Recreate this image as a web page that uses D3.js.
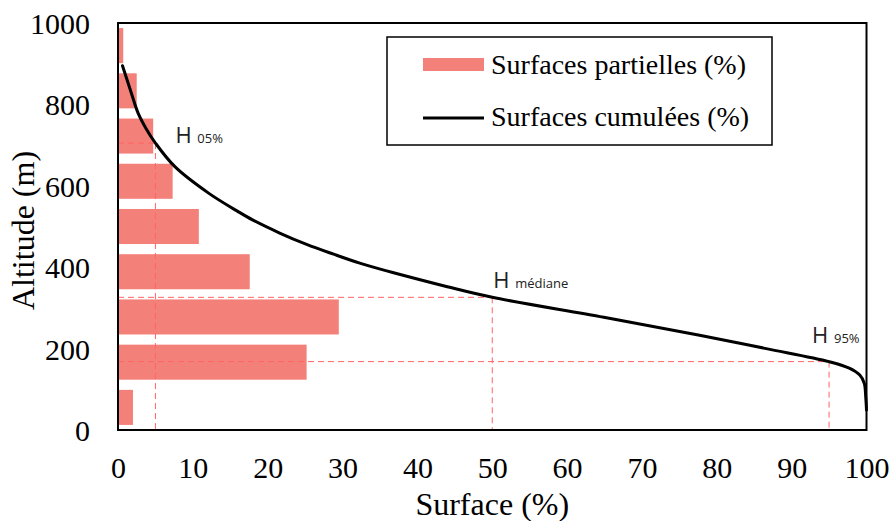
<!DOCTYPE html>
<html>
<head>
<meta charset="utf-8">
<script src="https://cdn.jsdelivr.net/npm/d3@7"></script>
<style>
  body { margin: 0; background: #fff; }
  svg { display: block; }
</style>
</head>
<body>
<div id="chart"></div>
<script>
// altitude classes (bars) and the share of surface in each one
const altitudeClasses = ["0-100", "100-200", "200-300", "300-400", "400-500",
                         "500-600", "600-700", "700-800", "800-900"];
const partialSurface = [2.0, 25.2, 29.5, 17.6, 10.8, 7.3, 4.7, 2.5, 0.7];

// hypsometric curve: altitude (m) and cumulated surface (%)
const curveAltitude = [895, 827, 778, 739, 705, 647, 582, 536, 515, 484, 456, 432, 410,
                       391, 382, 352, 326, 277, 233, 200, 168, 152, 135, 115, 80, 49];
const curveSurface = [0.6, 1.8, 2.7, 3.8, 5.0, 7.6, 12.1, 16.1, 18.1, 21.6, 25.2, 28.8, 32.3,
                      35.9, 37.7, 44.0, 50.0, 64.9, 77.7, 86.6, 95.0, 97.7, 99.1, 99.7, 99.9, 100];

// characteristic altitudes
const markerNames = ["05%", "médiane", "95%"];
const markerSurface = [5, 50, 95];
const markerAltitude = [705, 326, 168];

const xTicks = [0, 10, 20, 30, 40, 50, 60, 70, 80, 90, 100];
const yTicks = [0, 200, 400, 600, 800, 1000];

const width = 893, height = 521;
const margin = {top: 23, right: 26.5, bottom: 91, left: 118};
const innerW = width - margin.left - margin.right;
const innerH = height - margin.top - margin.bottom;

const serif = "'Liberation Serif', 'Times New Roman', serif";
const sans = "'Open Sans', 'Noto Sans', sans-serif";
const barColor = "#f4807a";
const guideColor = "#ff6464";

const svg = d3.select("#chart")
    .append("svg")
    .attr("width", width)
    .attr("height", height);

const g = svg.append("g")
    .attr("transform", `translate(${margin.left},${margin.top})`);

const x = d3.scaleLinear().domain([0, 100]).range([0, innerW]);
const y = d3.scaleLinear().domain([0, 1000]).range([innerH, 0]);

// bars sit on a category axis spread over the full height
const band = d3.scaleBand()
    .domain(altitudeClasses)
    .range([innerH, 0])
    .paddingInner(0.225)
    .paddingOuter(0.1125);

g.selectAll(".bar")
    .data(altitudeClasses)
    .enter()
    .append("rect")
    .attr("class", "bar")
    .attr("x", 0)
    .attr("y", d => band(d))
    .attr("width", (d, i) => x(partialSurface[i]))
    .attr("height", band.bandwidth())
    .attr("fill", barColor);

// guide lines for the characteristic altitudes
markerNames.forEach((name, i) => {
    const px = x(markerSurface[i]);
    const py = y(markerAltitude[i]);
    g.append("line")
        .attr("x1", 0).attr("x2", px)
        .attr("y1", py).attr("y2", py)
        .attr("stroke", guideColor)
        .attr("stroke-width", 1)
        .attr("stroke-dasharray", "6,4");
    g.append("line")
        .attr("x1", px).attr("x2", px)
        .attr("y1", py).attr("y2", innerH)
        .attr("stroke", guideColor)
        .attr("stroke-width", 1)
        .attr("stroke-dasharray", "6,4");
});

// cumulated surface curve
const curvePoints = curveAltitude.map((a, i) => [curveSurface[i], a]);
const line = d3.line()
    .x(d => x(d[0]))
    .y(d => y(d[1]))
    .curve(d3.curveCatmullRom.alpha(0.5));

g.append("path")
    .datum(curvePoints)
    .attr("fill", "none")
    .attr("stroke", "#000")
    .attr("stroke-width", 3)
    .attr("stroke-linecap", "round")
    .attr("d", line);

// H labels, offset from their point on the curve
const labelOffsets = [[20, 0], [1, -9], [-17, -19]];
markerNames.forEach((name, i) => {
    const [dx, dy] = labelOffsets[i];
    const t = g.append("text")
        .attr("x", x(markerSurface[i]) + dx)
        .attr("y", y(markerAltitude[i]) + dy)
        .attr("font-family", sans)
        .attr("fill", "#222");
    t.append("tspan").attr("font-size", 22).text("H ");
    t.append("tspan").attr("font-size", 13).text(name);
});

// plot frame
g.append("rect")
    .attr("x", 0).attr("y", 0)
    .attr("width", innerW).attr("height", innerH)
    .attr("fill", "none")
    .attr("stroke", "#000")
    .attr("stroke-width", 2);

// axes
const xAxis = g.append("g")
    .attr("transform", `translate(0,${innerH})`)
    .call(d3.axisBottom(x).tickValues(xTicks).tickSize(0).tickPadding(0));
xAxis.select(".domain").remove();
xAxis.selectAll("text")
    .attr("y", 47.5)
    .attr("dy", null)
    .attr("font-family", serif)
    .attr("font-size", 30)
    .attr("fill", "#000");

const yAxis = g.append("g")
    .call(d3.axisLeft(y).tickValues(yTicks).tickFormat(d3.format("d"))
        .tickSize(0).tickPadding(28));
yAxis.select(".domain").remove();
yAxis.selectAll("text")
    .attr("dy", "0.35em")
    .attr("font-family", serif)
    .attr("font-size", 30)
    .attr("fill", "#000");

// axis titles
svg.append("text")
    .attr("x", margin.left + x(50))
    .attr("y", 515)
    .attr("text-anchor", "middle")
    .attr("font-family", serif)
    .attr("font-size", 32)
    .text("Surface (%)");

svg.append("text")
    .attr("transform", `translate(34,${margin.top + innerH / 2 + 4}) rotate(-90)`)
    .attr("text-anchor", "middle")
    .attr("font-family", serif)
    .attr("font-size", 32)
    .text("Altitude (m)");

// legend
const legend = svg.append("g").attr("transform", "translate(387,37)");
legend.append("rect")
    .attr("width", 385).attr("height", 108)
    .attr("fill", "#fff")
    .attr("stroke", "#000")
    .attr("stroke-width", 1.5);
legend.append("rect")
    .attr("x", 36).attr("y", 21)
    .attr("width", 61).attr("height", 13)
    .attr("fill", barColor);
legend.append("line")
    .attr("x1", 36).attr("x2", 97)
    .attr("y1", 81).attr("y2", 81)
    .attr("stroke", "#000")
    .attr("stroke-width", 3);
legend.selectAll(".legend-label")
    .data(["Surfaces partielles (%)", "Surfaces cumulées (%)"])
    .enter()
    .append("text")
    .attr("class", "legend-label")
    .attr("x", 104)
    .attr("y", (d, i) => i === 0 ? 37 : 89)
    .attr("font-family", serif)
    .attr("font-size", 28)
    .text(d => d);
</script>
</body>
</html>
